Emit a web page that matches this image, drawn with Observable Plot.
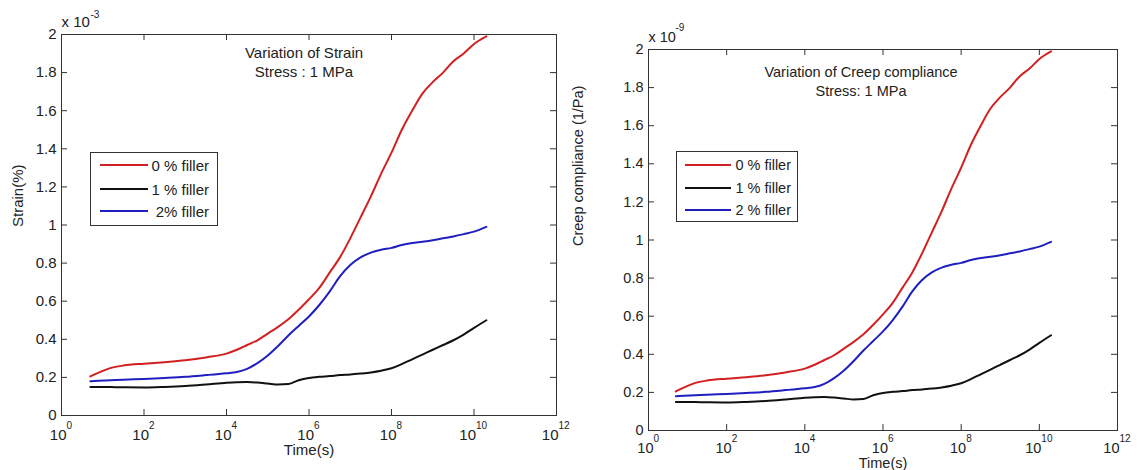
<!DOCTYPE html>
<html><head><meta charset="utf-8">
<script src="https://cdn.jsdelivr.net/npm/d3@7"></script>
<script src="https://cdn.jsdelivr.net/npm/@observablehq/plot@0.6"></script>
<style>
body{margin:0;background:#fff;font-family:Arial,"Liberation Sans",sans-serif}
#wrap{position:relative;width:1137px;height:470px;overflow:hidden;background:#fff}
.panel{position:absolute;top:0}
.legend{position:absolute;box-sizing:border-box;border:1px solid #333;background:#fff;color:#222;font-family:Arial,"Liberation Sans",sans-serif}
.legend .ln{position:absolute;height:2px}
.legend .tx{position:absolute;white-space:nowrap;line-height:1;transform:translateY(-50%)}
</style></head><body><div id="wrap"></div>
<script>
// log10 of time (s) at which values were read
const logTime = [0.7, 0.9, 1.2, 1.5, 2, 2.5, 3, 3.5, 4, 4.25, 4.5, 4.75, 5, 5.25, 5.5, 5.75, 6, 6.25, 6.5, 6.75, 7, 7.25, 7.5, 7.75, 8, 8.25, 8.5, 8.75, 9, 9.25, 9.5, 9.75, 10, 10.3];
// strain (x 1e-3) / creep compliance (x 1e-9 1/Pa) at 1 MPa
const filler0 = [0.205, 0.225, 0.25, 0.262, 0.272, 0.28, 0.29, 0.305, 0.325, 0.345, 0.37, 0.395, 0.43, 0.465, 0.505, 0.555, 0.61, 0.67, 0.75, 0.83, 0.93, 1.04, 1.15, 1.27, 1.38, 1.5, 1.6, 1.69, 1.75, 1.8, 1.86, 1.9, 1.95, 1.99];
const filler1 = [0.15, 0.15, 0.149, 0.148, 0.147, 0.15, 0.155, 0.163, 0.172, 0.175, 0.176, 0.173, 0.168, 0.163, 0.165, 0.185, 0.197, 0.203, 0.207, 0.212, 0.215, 0.22, 0.226, 0.235, 0.248, 0.27, 0.295, 0.32, 0.345, 0.37, 0.395, 0.425, 0.46, 0.5];
const filler2 = [0.18, 0.182, 0.185, 0.188, 0.192, 0.197, 0.203, 0.212, 0.222, 0.228, 0.245, 0.275, 0.315, 0.365, 0.42, 0.47, 0.52, 0.58, 0.65, 0.73, 0.79, 0.83, 0.855, 0.87, 0.88, 0.895, 0.905, 0.912, 0.92, 0.93, 0.94, 0.952, 0.965, 0.99];
const seriesColors = ["#d21f1f", "#111111", "#1f1fbf"];
const legendLeft = ["0 % filler", "1 % filler", "2% filler"];
const legendRight = ["0 % filler", "1 % filler", "2 % filler"];
const xTickExponents = [0, 2, 4, 6, 8, 10, 12];
const yTicks = [0, 0.2, 0.4, 0.6, 0.8, 1, 1.2, 1.4, 1.6, 1.8, 2];
const yTickLabels = ["0", "0.2", "0.4", "0.6", "0.8", "1", "1.2", "1.4", "1.6", "1.8", "2"];

const seriesValues = [filler0, filler1, filler2];
const series = seriesValues.map((vals, k) => logTime.map((e, i) => ({t: Math.pow(10, e), v: vals[i], k})));
const FONT = "Arial, 'Liberation Sans', sans-serif";

function panel(o) {
  const fw = o.width - o.ml - o.mr, fh = o.height - o.mt - o.mb;
  const xt = xTickExponents.map(e => Math.pow(10, e));
  const e1 = xTickExponents.filter(e => e < 10), e2 = xTickExponents.filter(e => e >= 10);
  const ink = "#222";
  const fs = o.fs;
  const marks = [
    ...series.map((d, k) => Plot.line(d, {x: "t", y: "v", stroke: seriesColors[k], strokeWidth: 2, curve: "monotone-x"})),
    Plot.frame({stroke: "#333", strokeWidth: 1}),
    Plot.tickX(xt, {x: d => d, insetTop: fh - 6, stroke: "#333"}),
    Plot.tickX(xt, {x: d => d, insetBottom: fh - 6, stroke: "#333"}),
    Plot.tickY(yTicks, {y: d => d, insetRight: fw - 6, stroke: "#333"}),
    Plot.tickY(yTicks, {y: d => d, insetLeft: fw - 6, stroke: "#333"}),
    Plot.text(yTicks, {y: d => d, text: (d, i) => yTickLabels[i], frameAnchor: "left", textAnchor: "end", dx: -5, fontSize: fs, fill: ink}),
    Plot.text(e1, {x: e => Math.pow(10, e), text: () => "10", frameAnchor: "bottom", lineAnchor: "top", textAnchor: "end", dx: 5, dy: o.xlDy, fontSize: fs, fill: ink}),
    Plot.text(e1, {x: e => Math.pow(10, e), text: e => String(e), frameAnchor: "bottom", lineAnchor: "top", textAnchor: "start", dx: 5, dy: o.xlDy - 8, fontSize: 10, fill: ink}),
    Plot.text(e2, {x: e => Math.pow(10, e), text: () => "10", frameAnchor: "bottom", lineAnchor: "top", textAnchor: "end", dx: 2, dy: o.xlDy, fontSize: fs, fill: ink}),
    Plot.text(e2, {x: e => Math.pow(10, e), text: e => String(e), frameAnchor: "bottom", lineAnchor: "top", textAnchor: "start", dx: 2, dy: o.xlDy - 8, fontSize: 10, fill: ink}),
    Plot.text(["x 10"], {text: d => d, frameAnchor: "top-left", textAnchor: "start", lineAnchor: "top", dy: -18, fontSize: fs, fill: ink}),
    Plot.text([o.mult], {text: d => d, frameAnchor: "top-left", textAnchor: "start", lineAnchor: "top", dx: o.multDx, dy: o.multDy, fontSize: 10, fill: ink}),
    Plot.text(["Time(s)"], {text: d => d, frameAnchor: "bottom", lineAnchor: "middle", dy: o.xLabelDy, fontSize: fs, fill: ink}),
    Plot.text([o.yLabel], {text: d => d, frameAnchor: "left", rotate: -90, lineAnchor: "middle", dx: o.yLabelDx, dy: o.yLabelDy, fontSize: fs, fill: ink}),
    Plot.text([o.title1], {text: d => d, frameAnchor: "top", lineAnchor: "top", dx: o.titleDx, dy: o.titleDy, fontSize: fs, fill: ink}),
    Plot.text([o.title2], {text: d => d, frameAnchor: "top", lineAnchor: "top", dx: o.titleDx, dy: o.titleDy + 19, fontSize: fs, fill: ink})
  ];
  const svg = Plot.plot({
    width: o.width, height: o.height,
    marginLeft: o.ml, marginRight: o.mr, marginTop: o.mt, marginBottom: o.mb,
    style: {fontFamily: FONT, background: "transparent", overflow: "visible"},
    x: {type: "log", domain: [1, 1e12], axis: null},
    y: {domain: [0, 2], axis: null},
    marks
  });
  svg.classList.add("panel");
  svg.style.left = o.left + "px";
  svg.style.maxWidth = "none";
  return svg;
}

function legend(o) {
  const box = document.createElement("div");
  box.className = "legend";
  Object.assign(box.style, {left: o.left + "px", top: o.top + "px", width: o.w + "px", height: o.h + "px", fontSize: o.fs + "px"});
  o.labels.forEach((lab, k) => {
    const ln = document.createElement("div");
    ln.className = "ln";
    Object.assign(ln.style, {left: o.lx + "px", width: o.lw + "px", top: (o.rows[k] - 1) + "px", background: seriesColors[k]});
    const tx = document.createElement("div");
    tx.className = "tx";
    tx.textContent = lab;
    Object.assign(tx.style, {right: o.tr + "px", top: o.rows[k] + "px"});
    box.append(ln, tx);
  });
  return box;
}

const wrap = document.getElementById("wrap");
wrap.append(panel({
  left: 0, width: 570, height: 470, ml: 61, mr: 14, mt: 34, mb: 55, fs: 15,
  xlDy: 14, mult: "-3", multDx: 29, multDy: -24,
  xLabelDy: 35, yLabel: "Strain(%)", yLabelDx: -43, yLabelDy: 2,
  title1: "Variation of Strain", title2: "Stress : 1 MPa", titleDx: -5, titleDy: 13
}));
wrap.append(panel({
  left: 570, width: 567, height: 470, ml: 78, mr: 20, mt: 49, mb: 40, fs: 14.5,
  xlDy: 12, mult: "-9", multDx: 27, multDy: -26,
  xLabelDy: 33, yLabel: "Creep compliance (1/Pa)", yLabelDx: -70, yLabelDy: 6,
  title1: "Variation of Creep compliance", title2: "Stress: 1 MPa", titleDx: -22, titleDy: 17
}));
wrap.append(legend({left: 90, top: 152, w: 128, h: 74, fs: 15, lx: 9, lw: 48, tr: 8, rows: [12, 36, 58], labels: legendLeft}));
wrap.append(legend({left: 676, top: 151, w: 122, h: 71, fs: 14.5, lx: 8, lw: 46, tr: 6, rows: [13, 36, 58], labels: legendRight}));
</script>
</body></html>
